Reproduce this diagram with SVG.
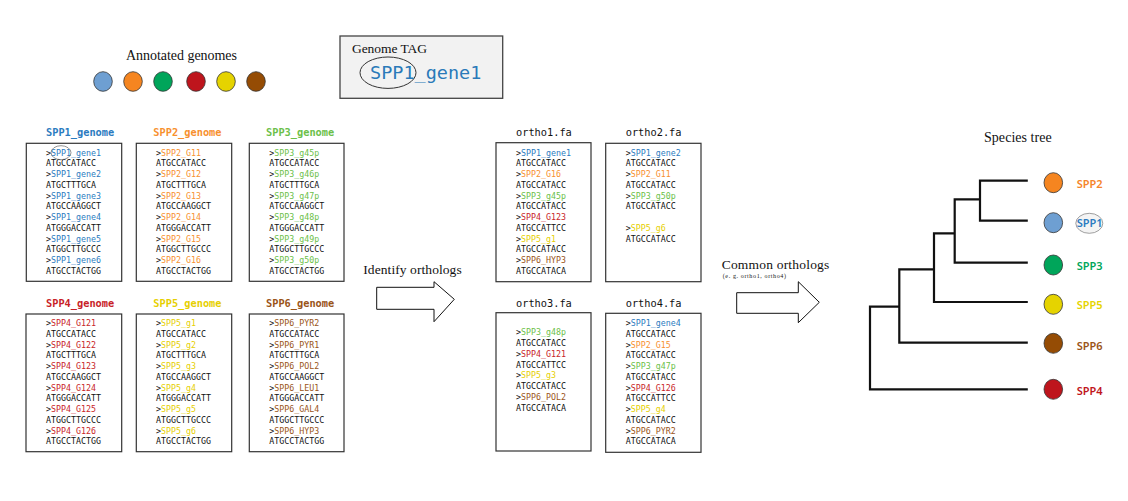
<svg xmlns="http://www.w3.org/2000/svg" width="1128" height="501" viewBox="0 0 1128 501">
<style>
.serif{font-family:"Liberation Serif","Times New Roman",serif;fill:#111}
.mono{font-family:"DejaVu Sans Mono","Liberation Mono",monospace}
.seq{font-family:"DejaVu Sans Mono","Liberation Mono",monospace;font-size:8.3px;fill:#111}
.ttl{font-family:"DejaVu Sans Mono","Liberation Mono",monospace;font-size:10.3px;font-weight:600}
.box{fill:#fff;stroke:#333;stroke-width:1.2}
.dot{stroke:#333;stroke-width:0.8}
.lbl{font-family:"Noto Sans","DejaVu Sans",sans-serif;font-size:11px;font-weight:600}
.b{fill:#2b7bc0}.o{fill:#f7902f}.g{fill:#6cbf4a}.r{fill:#c81e28}.y{fill:#e6cf00}.br{fill:#9a5418}
.arrow{fill:#fff;stroke:#111;stroke-width:1}
.tree{fill:none;stroke:#111;stroke-width:2.2;stroke-linecap:square}
</style>

<g id="legend">
<text class="serif" x="126" y="60" font-size="14" textLength="111">Annotated genomes</text>
<ellipse class="dot" cx="103" cy="81.5" rx="9.3" ry="9.8" fill="#6e9fd2"/>
<ellipse class="dot" cx="133" cy="81.5" rx="9.3" ry="9.8" fill="#f58520"/>
<ellipse class="dot" cx="163" cy="81.5" rx="9.3" ry="9.8" fill="#00a55a"/>
<ellipse class="dot" cx="196" cy="81.5" rx="9.3" ry="9.8" fill="#be151d"/>
<ellipse class="dot" cx="226" cy="81.5" rx="9.3" ry="9.8" fill="#e5d300"/>
<ellipse class="dot" cx="256" cy="81.5" rx="9.3" ry="9.8" fill="#954c04"/>
</g>

<g id="genome-tag">
<rect x="340" y="36" width="162.7" height="62.3" fill="#f2f2f2" stroke="#444" stroke-width="1.3"/>
<text class="serif" x="352" y="53" font-size="13.5" textLength="75">Genome TAG</text>
<text class="mono" x="370" y="79" font-size="18.5" fill="#2a7ab9">SPP1_gene1</text>
<ellipse cx="388" cy="72.7" rx="28" ry="15.7" fill="none" stroke="#333" stroke-width="1"/>
</g>

<g id="spp1">
<text class="ttl b" x="46" y="135.7">SPP1_genome</text>
<rect class="box" x="26.3" y="143.3" width="95.4" height="138"/>
<text class="seq">
<tspan x="46" y="155.7">&gt;<tspan class="b">SPP1_gene1</tspan></tspan>
<tspan x="46" y="166.45">ATGCCATACC</tspan>
<tspan x="46" y="177.2">&gt;<tspan class="b">SPP1_gene2</tspan></tspan>
<tspan x="46" y="187.95">ATGCTTTGCA</tspan>
<tspan x="46" y="198.7">&gt;<tspan class="b">SPP1_gene3</tspan></tspan>
<tspan x="46" y="209.45">ATGCCAAGGCT</tspan>
<tspan x="46" y="220.2">&gt;<tspan class="b">SPP1_gene4</tspan></tspan>
<tspan x="46" y="230.95">ATGGGACCATT</tspan>
<tspan x="46" y="241.7">&gt;<tspan class="b">SPP1_gene5</tspan></tspan>
<tspan x="46" y="252.45">ATGGCTTGCCC</tspan>
<tspan x="46" y="263.2">&gt;<tspan class="b">SPP1_gene6</tspan></tspan>
<tspan x="46" y="273.95">ATGCCTACTGG</tspan>
</text>
<ellipse cx="61" cy="152.7" rx="10" ry="7" fill="none" stroke="#666" stroke-width="0.7"/>
</g>

<g id="spp2">
<text class="ttl o" x="153.3" y="135.7">SPP2_genome</text>
<rect class="box" x="136.3" y="143.3" width="95.4" height="138"/>
<text class="seq">
<tspan x="156" y="155.7">&gt;<tspan class="o">SPP2_G11</tspan></tspan>
<tspan x="156" y="166.45">ATGCCATACC</tspan>
<tspan x="156" y="177.2">&gt;<tspan class="o">SPP2_G12</tspan></tspan>
<tspan x="156" y="187.95">ATGCTTTGCA</tspan>
<tspan x="156" y="198.7">&gt;<tspan class="o">SPP2_G13</tspan></tspan>
<tspan x="156" y="209.45">ATGCCAAGGCT</tspan>
<tspan x="156" y="220.2">&gt;<tspan class="o">SPP2_G14</tspan></tspan>
<tspan x="156" y="230.95">ATGGGACCATT</tspan>
<tspan x="156" y="241.7">&gt;<tspan class="o">SPP2_G15</tspan></tspan>
<tspan x="156" y="252.45">ATGGCTTGCCC</tspan>
<tspan x="156" y="263.2">&gt;<tspan class="o">SPP2_G16</tspan></tspan>
<tspan x="156" y="273.95">ATGCCTACTGG</tspan>
</text>
</g>

<g id="spp3">
<text class="ttl g" x="266" y="135.7">SPP3_genome</text>
<rect class="box" x="249.3" y="143.3" width="94.7" height="138"/>
<text class="seq">
<tspan x="269.3" y="155.7">&gt;<tspan class="g">SPP3_g45p</tspan></tspan>
<tspan x="269.3" y="166.45">ATGCCATACC</tspan>
<tspan x="269.3" y="177.2">&gt;<tspan class="g">SPP3_g46p</tspan></tspan>
<tspan x="269.3" y="187.95">ATGCTTTGCA</tspan>
<tspan x="269.3" y="198.7">&gt;<tspan class="g">SPP3_g47p</tspan></tspan>
<tspan x="269.3" y="209.45">ATGCCAAGGCT</tspan>
<tspan x="269.3" y="220.2">&gt;<tspan class="g">SPP3_g48p</tspan></tspan>
<tspan x="269.3" y="230.95">ATGGGACCATT</tspan>
<tspan x="269.3" y="241.7">&gt;<tspan class="g">SPP3_g49p</tspan></tspan>
<tspan x="269.3" y="252.45">ATGGCTTGCCC</tspan>
<tspan x="269.3" y="263.2">&gt;<tspan class="g">SPP3_g50p</tspan></tspan>
<tspan x="269.3" y="273.95">ATGCCTACTGG</tspan>
</text>
</g>

<g id="spp4">
<text class="ttl r" x="46" y="306.7">SPP4_genome</text>
<rect class="box" x="26" y="314" width="95.7" height="137.7"/>
<text class="seq">
<tspan x="46" y="326">&gt;<tspan class="r">SPP4_G121</tspan></tspan>
<tspan x="46" y="336.75">ATGCCATACC</tspan>
<tspan x="46" y="347.5">&gt;<tspan class="r">SPP4_G122</tspan></tspan>
<tspan x="46" y="358.25">ATGCTTTGCA</tspan>
<tspan x="46" y="369">&gt;<tspan class="r">SPP4_G123</tspan></tspan>
<tspan x="46" y="379.75">ATGCCAAGGCT</tspan>
<tspan x="46" y="390.5">&gt;<tspan class="r">SPP4_G124</tspan></tspan>
<tspan x="46" y="401.25">ATGGGACCATT</tspan>
<tspan x="46" y="412">&gt;<tspan class="r">SPP4_G125</tspan></tspan>
<tspan x="46" y="422.75">ATGGCTTGCCC</tspan>
<tspan x="46" y="433.5">&gt;<tspan class="r">SPP4_G126</tspan></tspan>
<tspan x="46" y="444.25">ATGCCTACTGG</tspan>
</text>
</g>

<g id="spp5">
<text class="ttl y" x="153.3" y="306.7">SPP5_genome</text>
<rect class="box" x="136.3" y="314" width="95.4" height="137.7"/>
<text class="seq">
<tspan x="156" y="326">&gt;<tspan class="y">SPP5_g1</tspan></tspan>
<tspan x="156" y="336.75">ATGCCATACC</tspan>
<tspan x="156" y="347.5">&gt;<tspan class="y">SPP5_g2</tspan></tspan>
<tspan x="156" y="358.25">ATGCTTTGCA</tspan>
<tspan x="156" y="369">&gt;<tspan class="y">SPP5_g3</tspan></tspan>
<tspan x="156" y="379.75">ATGCCAAGGCT</tspan>
<tspan x="156" y="390.5">&gt;<tspan class="y">SPP5_g4</tspan></tspan>
<tspan x="156" y="401.25">ATGGGACCATT</tspan>
<tspan x="156" y="412">&gt;<tspan class="y">SPP5_g5</tspan></tspan>
<tspan x="156" y="422.75">ATGGCTTGCCC</tspan>
<tspan x="156" y="433.5">&gt;<tspan class="y">SPP5_g6</tspan></tspan>
<tspan x="156" y="444.25">ATGCCTACTGG</tspan>
</text>
</g>

<g id="spp6">
<text class="ttl br" x="266" y="306.7">SPP6_genome</text>
<rect class="box" x="249.3" y="314" width="94.7" height="137.7"/>
<text class="seq">
<tspan x="269.3" y="326">&gt;<tspan class="br">SPP6_PYR2</tspan></tspan>
<tspan x="269.3" y="336.75">ATGCCATACC</tspan>
<tspan x="269.3" y="347.5">&gt;<tspan class="br">SPP6_PYR1</tspan></tspan>
<tspan x="269.3" y="358.25">ATGCTTTGCA</tspan>
<tspan x="269.3" y="369">&gt;<tspan class="br">SPP6_POL2</tspan></tspan>
<tspan x="269.3" y="379.75">ATGCCAAGGCT</tspan>
<tspan x="269.3" y="390.5">&gt;<tspan class="br">SPP6_LEU1</tspan></tspan>
<tspan x="269.3" y="401.25">ATGGGACCATT</tspan>
<tspan x="269.3" y="412">&gt;<tspan class="br">SPP6_GAL4</tspan></tspan>
<tspan x="269.3" y="422.75">ATGGCTTGCCC</tspan>
<tspan x="269.3" y="433.5">&gt;<tspan class="br">SPP6_HYP3</tspan></tspan>
<tspan x="269.3" y="444.25">ATGCCTACTGG</tspan>
</text>
</g>

<g id="ortho1">
<text class="mono" x="516" y="135.7" font-size="10.3" fill="#111">ortho1.fa</text>
<rect class="box" x="496" y="142.7" width="95" height="139"/>
<text class="seq">
<tspan x="516" y="155.7">&gt;<tspan class="b">SPP1_gene1</tspan></tspan>
<tspan x="516" y="166.45">ATGCCATACC</tspan>
<tspan x="516" y="177.2">&gt;<tspan class="o">SPP2_G16</tspan></tspan>
<tspan x="516" y="187.95">ATGCCATACC</tspan>
<tspan x="516" y="198.7">&gt;<tspan class="g">SPP3_g45p</tspan></tspan>
<tspan x="516" y="209.45">ATGCCATACC</tspan>
<tspan x="516" y="220.2">&gt;<tspan class="r">SPP4_G123</tspan></tspan>
<tspan x="516" y="230.95">ATGCCATTCC</tspan>
<tspan x="516" y="241.7">&gt;<tspan class="y">SPP5_g1</tspan></tspan>
<tspan x="516" y="252.45">ATGCCATACC</tspan>
<tspan x="516" y="263.2">&gt;<tspan class="br">SPP6_HYP3</tspan></tspan>
<tspan x="516" y="273.95">ATGCCATACA</tspan>
</text>
</g>

<g id="ortho2">
<text class="mono" x="625.7" y="135.7" font-size="10.3" fill="#111">ortho2.fa</text>
<rect class="box" x="605.7" y="143.3" width="95.3" height="138.4"/>
<text class="seq">
<tspan x="625.7" y="155.7">&gt;<tspan class="b">SPP1_gene2</tspan></tspan>
<tspan x="625.7" y="166.45">ATGCCATACC</tspan>
<tspan x="625.7" y="177.2">&gt;<tspan class="o">SPP2_G11</tspan></tspan>
<tspan x="625.7" y="187.95">ATGCCATACC</tspan>
<tspan x="625.7" y="198.7">&gt;<tspan class="g">SPP3_g50p</tspan></tspan>
<tspan x="625.7" y="209.45">ATGCCATACC</tspan>
<tspan x="625.7" y="230.95">&gt;<tspan class="y">SPP5_g6</tspan></tspan>
<tspan x="625.7" y="241.7">ATGCCATACC</tspan>
</text>
</g>

<g id="ortho3">
<text class="mono" x="516" y="306.7" font-size="10.3" fill="#111">ortho3.fa</text>
<rect class="box" x="496" y="312.7" width="95" height="138.3"/>
<text class="seq">
<tspan x="516" y="335.3">&gt;<tspan class="g">SPP3_g48p</tspan></tspan>
<tspan x="516" y="346.05">ATGCCATACC</tspan>
<tspan x="516" y="356.8">&gt;<tspan class="r">SPP4_G121</tspan></tspan>
<tspan x="516" y="367.55">ATGCCATTCC</tspan>
<tspan x="516" y="378.3">&gt;<tspan class="y">SPP5_g3</tspan></tspan>
<tspan x="516" y="389.05">ATGCCATACC</tspan>
<tspan x="516" y="399.8">&gt;<tspan class="br">SPP6_POL2</tspan></tspan>
<tspan x="516" y="410.55">ATGCCATACA</tspan>
</text>
</g>

<g id="ortho4">
<text class="mono" x="625.7" y="306.7" font-size="10.3" fill="#111">ortho4.fa</text>
<rect class="box" x="605.7" y="313.3" width="95.3" height="139"/>
<text class="seq">
<tspan x="625.7" y="326">&gt;<tspan class="b">SPP1_gene4</tspan></tspan>
<tspan x="625.7" y="336.75">ATGCCATACC</tspan>
<tspan x="625.7" y="347.5">&gt;<tspan class="o">SPP2_G15</tspan></tspan>
<tspan x="625.7" y="358.25">ATGCCATACC</tspan>
<tspan x="625.7" y="369">&gt;<tspan class="g">SPP3_g47p</tspan></tspan>
<tspan x="625.7" y="379.75">ATGCCATACC</tspan>
<tspan x="625.7" y="390.5">&gt;<tspan class="r">SPP4_G126</tspan></tspan>
<tspan x="625.7" y="401.25">ATGCCATTCC</tspan>
<tspan x="625.7" y="412">&gt;<tspan class="y">SPP5_g4</tspan></tspan>
<tspan x="625.7" y="422.75">ATGCCATACC</tspan>
<tspan x="625.7" y="433.5">&gt;<tspan class="br">SPP6_PYR2</tspan></tspan>
<tspan x="625.7" y="444.25">ATGCCATACA</tspan>
</text>
</g>

<g id="connectors">
<g id="identify-arrow">
<text class="serif" x="363.3" y="274" font-size="13.5" textLength="98.4">Identify orthologs</text>
<polygon class="arrow" points="376.7,287.3 434,287.3 434,281.7 454.3,299.3 434,321.7 434,309.3 376.7,309.3"/>
</g>
<g id="common-arrow">
<text class="serif" x="721.7" y="268.5" font-size="13.5" textLength="107.6">Common orthologs</text>
<text class="serif" x="722.7" y="277.5" font-size="6" textLength="63.3">(e. g. ortho1, ortho4)</text>
<polygon class="arrow" points="736.7,292.7 798.3,292.7 798.3,281.7 819.3,302.3 798.3,322.7 798.3,313.3 736.7,313.3"/>
</g>
</g>

<g id="species-tree">
<text class="serif" x="984" y="141.7" font-size="14" textLength="67.7">Species tree</text>
<path class="tree" d="M980 180.7H1026.7M980 220.7H1026.7M980 180.7V220.7M954.7 199.3H980M954.7 262.7H1026.7M954.7 199.3V262.7M934 233.3H954.7M934 302H1026.7M934 233.3V302M899.3 269.3H934M899.3 342.7H1026.7M899.3 269.3V342.7M870 306.7H899.3M870 389.3H1026.7M870 306.7V389.3"/>
<g id="leaf-spp2"><ellipse class="dot" cx="1053.3" cy="182.7" rx="9.3" ry="10" fill="#f58520"/><text class="lbl" x="1076.7" y="187.7" fill="#f5852a">SPP2</text></g>
<g id="leaf-spp1"><ellipse class="dot" cx="1053.3" cy="222.7" rx="9.3" ry="10" fill="#6e9fd2"/><ellipse cx="1089.3" cy="223.3" rx="13.5" ry="10" fill="#f4f4f4" stroke="#777" stroke-width="0.7"/><text class="lbl" x="1076.7" y="227.3" fill="#2b7bc0">SPP1</text></g>
<g id="leaf-spp3"><ellipse class="dot" cx="1053.3" cy="265" rx="9.3" ry="10" fill="#00a55a"/><text class="lbl" x="1076.7" y="270" fill="#00a65a">SPP3</text></g>
<g id="leaf-spp5"><ellipse class="dot" cx="1053.3" cy="304.3" rx="9.3" ry="10" fill="#e5d300"/><text class="lbl" x="1076.7" y="309.3" fill="#e6d400">SPP5</text></g>
<g id="leaf-spp6"><ellipse class="dot" cx="1053.3" cy="343.3" rx="9.3" ry="10" fill="#954c04"/><text class="lbl" x="1076.7" y="350" fill="#9a5418">SPP6</text></g>
<g id="leaf-spp4"><ellipse class="dot" cx="1053.3" cy="389.3" rx="9.3" ry="10" fill="#be151d"/><text class="lbl" x="1076.7" y="395.3" fill="#c0161c">SPP4</text></g>
</g>
</svg>
